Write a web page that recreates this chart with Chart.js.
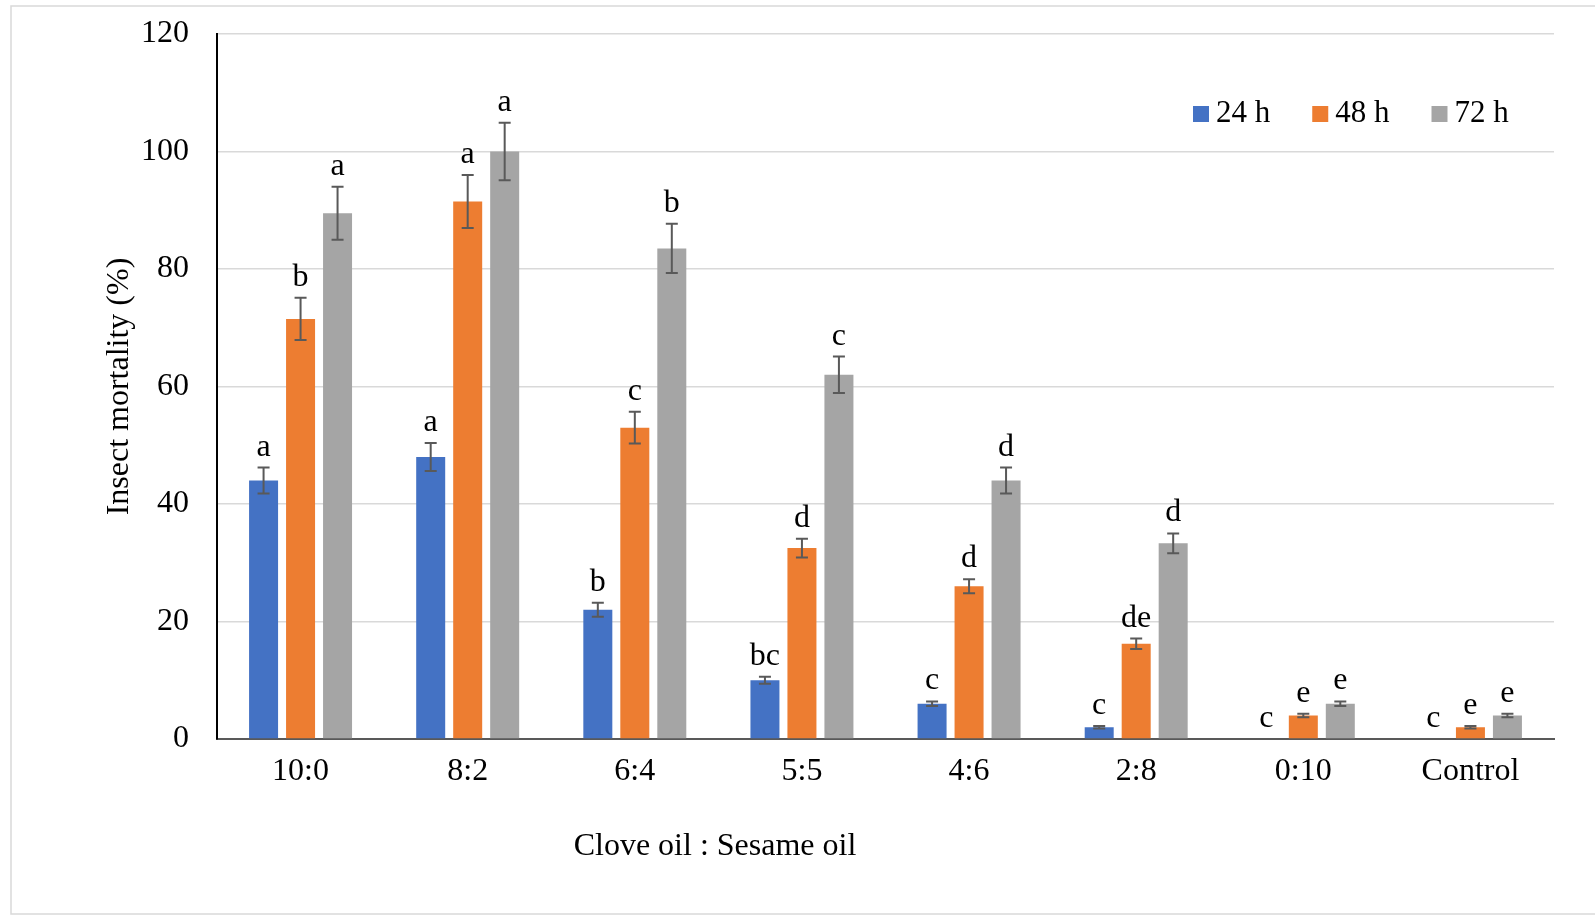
<!DOCTYPE html>
<html>
<head>
<meta charset="utf-8">
<script src="https://cdn.jsdelivr.net/npm/chart.js@4"></script>
<style>
  body { margin: 0; background: #fff; }
</style>
</head>
<body>
<canvas id="barChart" width="1595" height="917"></canvas>
<script>
// data
const ratios = ['10:0', '8:2', '6:4', '5:5', '4:6', '2:8', '0:10', 'Control'];
const yTicks = [0, 20, 40, 60, 80, 100, 120];

const mort24 = [44, 48, 22, 10, 6, 2, 0, 0];
const mort48 = [71.5, 91.5, 53, 32.5, 26, 16.2, 4, 2];
const mort72 = [89.5, 100, 83.5, 62, 44, 33.3, 6, 4];

const err24 = [2.2, 2.4, 1.2, 0.6, 0.4, 0.2, 0, 0];
const err48 = [3.6, 4.5, 2.7, 1.6, 1.2, 0.9, 0.3, 0.2];
const err72 = [4.5, 4.9, 4.2, 3.1, 2.2, 1.7, 0.4, 0.3];

const letters24 = ['a', 'a', 'b', 'bc', 'c', 'c', 'c', 'c'];
const letters48 = ['b', 'a', 'c', 'd', 'd', 'de', 'e', 'e'];
const letters72 = ['a', 'a', 'b', 'c', 'd', 'd', 'e', 'e'];

const serif = "'Liberation Serif', 'Times New Roman', serif";

// frame, error bars, letters, legend, x title
const extras = {
    id: 'extras',
    beforeDraw(chart) {
        const ctx = chart.ctx;
        ctx.save();
        ctx.strokeStyle = '#d9d9d9';
        ctx.lineWidth = 1.5;
        ctx.strokeRect(11, 6, 1620, 908);
        ctx.restore();
    },
    afterDatasetsDraw(chart) {
        const ctx = chart.ctx;
        const y = chart.scales.y;
        ctx.save();
        chart.data.datasets.forEach((ds, i) => {
            const meta = chart.getDatasetMeta(i);
            meta.data.forEach((bar, j) => {
                const v = ds.data[j];
                const e = ds.errors[j];
                const top = y.getPixelForValue(v + e);
                const bot = y.getPixelForValue(v - e);
                if (e > 0) {
                    ctx.strokeStyle = '#595959';
                    ctx.lineWidth = 2;
                    ctx.beginPath();
                    ctx.moveTo(bar.x, top);
                    ctx.lineTo(bar.x, bot);
                    ctx.moveTo(bar.x - 6, top);
                    ctx.lineTo(bar.x + 6, top);
                    ctx.moveTo(bar.x - 6, bot);
                    ctx.lineTo(bar.x + 6, bot);
                    ctx.stroke();
                }
                ctx.fillStyle = '#000';
                ctx.font = '32px ' + serif;
                ctx.textAlign = 'center';
                ctx.textBaseline = 'alphabetic';
                ctx.fillText(ds.letters[j], bar.x, top - 12);
            });
        });

        // legend inside the plot
        ctx.font = '31px ' + serif;
        ctx.textBaseline = 'middle';
        ctx.textAlign = 'left';
        let lx = 1193;
        chart.data.datasets.forEach(ds => {
            ctx.fillStyle = ds.backgroundColor;
            ctx.fillRect(lx, 106, 16, 16);
            ctx.fillStyle = '#000';
            ctx.fillText(ds.label, lx + 23, 114);
            lx += 16 + 7 + ctx.measureText(ds.label).width + 42;
        });

        // x axis title
        ctx.font = '32px ' + serif;
        ctx.textAlign = 'center';
        ctx.fillText('Clove oil : Sesame oil', 715, 847);
        ctx.restore();
    }
};

const ctx = document.getElementById('barChart');
new Chart(ctx, {
    type: 'bar',
    data: {
        labels: ratios,
        datasets: [
            { label: '24 h', data: mort24, errors: err24, letters: letters24, backgroundColor: '#4472C4' },
            { label: '48 h', data: mort48, errors: err48, letters: letters48, backgroundColor: '#ED7D31' },
            { label: '72 h', data: mort72, errors: err72, letters: letters72, backgroundColor: '#A5A5A5' },
        ],
    },
    options: {
        responsive: false,
        animation: false,
        devicePixelRatio: 1,
        categoryPercentage: 0.664,
        barPercentage: 0.784,
        layout: { padding: { left: 0, right: 41, top: 34, bottom: 0 } },
        plugins: {
            legend: { display: false },
            tooltip: { enabled: false },
        },
        scales: {
            x: {
                grid: { display: false, drawTicks: false },
                border: { color: '#595959', width: 2 },
                ticks: { color: '#000', font: { family: serif, size: 32 }, padding: 13, maxRotation: 0 },
                afterFit(scale) { scale.height = 178; },
            },
            y: {
                min: 0,
                max: 120,
                afterBuildTicks(scale) { scale.ticks = yTicks.map(v => ({ value: v })); },
                grid: { color: '#d9d9d9', lineWidth: 1.5, drawTicks: false },
                border: { color: '#000', width: 2 },
                ticks: { color: '#000', font: { family: serif, size: 32 }, padding: 28 },
                title: {
                    display: true,
                    text: 'Insect mortality (%)',
                    color: '#000',
                    font: { family: serif, size: 32 },
                    padding: { top: 100, bottom: 0 },
                },
                afterFit(scale) {
                    scale.width = 217;
                    scale.paddingTop = 0;
                    scale.paddingBottom = 0;
                },
            },
        },
    },
    plugins: [extras],
});
</script>
</body>
</html>
